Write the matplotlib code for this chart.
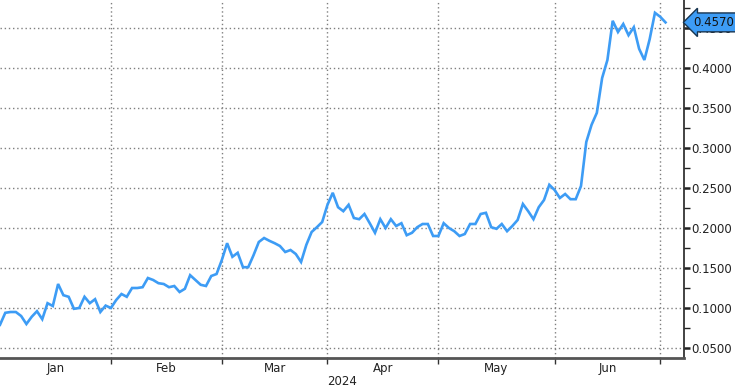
"""
Daily rate chart, Jan-Jun 2024, Bloomberg-style layout with the
value axis on the right and a last-value tag.
"""

import matplotlib
matplotlib.use('Agg')  # no display available
import matplotlib.pyplot as plt
from matplotlib.ticker import FixedLocator, MultipleLocator, FormatStrFormatter
import numpy as np


# Daily closes, one per trading day (Jan 3 .. Jul 2)
values = [
    # Jan
    0.079, 0.094, 0.095, 0.095, 0.090, 0.080, 0.089, 0.096, 0.086, 0.106,
    0.1025, 0.130, 0.116, 0.114, 0.099, 0.100, 0.114, 0.106, 0.111, 0.095,
    0.103,
    # Feb
    0.100, 0.110, 0.1175, 0.114, 0.125, 0.125, 0.126, 0.1375, 0.135, 0.131,
    0.130, 0.126, 0.1275, 0.120, 0.124, 0.141, 0.135, 0.129, 0.1275, 0.140,
    0.1425,
    # Mar
    0.160, 0.181, 0.164, 0.169, 0.151, 0.151, 0.166, 0.1825, 0.1875, 0.184,
    0.181, 0.1775, 0.170, 0.1725, 0.1675, 0.1575, 0.179, 0.195, 0.201, 0.2075,
    # Apr
    0.229, 0.244, 0.226, 0.221, 0.229, 0.2125, 0.211, 0.2175, 0.206, 0.194,
    0.211, 0.200, 0.211, 0.2025, 0.206, 0.191, 0.194, 0.201, 0.205, 0.205,
    0.190, 0.190,
    # May
    0.206, 0.200, 0.196, 0.190, 0.1925, 0.205, 0.205, 0.2175, 0.219, 0.201,
    0.199, 0.205, 0.196, 0.2025, 0.210, 0.230, 0.221, 0.211, 0.226, 0.235,
    0.254,
    # Jun
    0.2475, 0.2375, 0.2425, 0.236, 0.236, 0.2525, 0.3075, 0.329, 0.344, 0.3875,
    0.410, 0.459, 0.445, 0.455, 0.441, 0.451, 0.424, 0.410, 0.436, 0.469,
    0.464,
    # Jul
    0.457,
]

# Index of the first trading day of each month (month gridlines)
month_starts = [21, 42, 62, 83, 105, 125]
month_labels = ['Jan', 'Feb', 'Mar', 'Apr', 'May', 'Jun']
year_label = '2024'
last_label = '0.4570'

LINE_COLOR = '#3d9cf5'
GRID_COLOR = '#7f7f7f'
TEXT_COLOR = '#222222'

plt.rcParams.update({
    'font.family': 'DejaVu Sans',
    'font.size': 8.5,
})

fig = plt.figure(figsize=(7.35, 3.9), dpi=100)
ax = fig.add_axes([0.0, 32 / 390, 684 / 735, 358 / 390])

x = np.arange(len(values))
ax.plot(x, values, color=LINE_COLOR, linewidth=1.9, solid_joinstyle='miter',
        zorder=3)

x_left = 0
x_right = 129.5
ax.set_xlim(x_left, x_right)
ax.set_ylim(0.0375, 0.485)

# Month gridlines at boundaries, labels centered in each month
edges = [x_left] + month_starts
centers = [(a + b) / 2 for a, b in zip(edges[:-1], edges[1:])]
ax.xaxis.set_major_locator(FixedLocator(month_starts))
ax.xaxis.set_minor_locator(FixedLocator(centers))
ax.xaxis.set_major_formatter(plt.NullFormatter())
ax.xaxis.set_minor_formatter(plt.FixedFormatter(month_labels))
ax.tick_params(axis='x', which='major', direction='out', length=4, width=1,
               color='#333333')
ax.tick_params(axis='x', which='minor', length=0, pad=3, labelcolor=TEXT_COLOR,
               labelsize=8.5)
ax.text(0.5, -0.048, year_label, transform=ax.transAxes, ha='center',
        va='top', color=TEXT_COLOR, fontsize=8.5)

# Value axis on the right
ax.yaxis.tick_right()
ax.yaxis.set_major_locator(MultipleLocator(0.05))
ax.yaxis.set_minor_locator(MultipleLocator(0.025))
ax.yaxis.set_major_formatter(FormatStrFormatter('%.4f'))
ax.tick_params(axis='y', which='major', direction='out', length=4, width=1.8,
               color='#222222', pad=1, labelcolor=TEXT_COLOR, labelsize=8.5)
ax.tick_params(axis='y', which='minor', direction='out', length=4, width=1,
               color='#222222')

# Dotted grid
ax.grid(True, which='major', color=GRID_COLOR, linestyle=(0, (1, 2)),
        linewidth=1)

for side in ('left', 'top'):
    ax.spines[side].set_visible(False)
ax.spines['right'].set_color('#222222')
ax.spines['right'].set_linewidth(1.2)
ax.spines['bottom'].set_color('#555555')
ax.spines['bottom'].set_linewidth(2)

# Last value tag
ax.text(1.014, values[-1], last_label, transform=ax.get_yaxis_transform(),
        ha='left', va='center', color='#111111', fontsize=8.5, zorder=10,
        clip_on=False,
        bbox=dict(boxstyle='larrow,pad=0.25', facecolor=LINE_COLOR,
                  edgecolor='#17344f', linewidth=1))

fig.savefig('out.png', dpi=100)
plt.close(fig)
